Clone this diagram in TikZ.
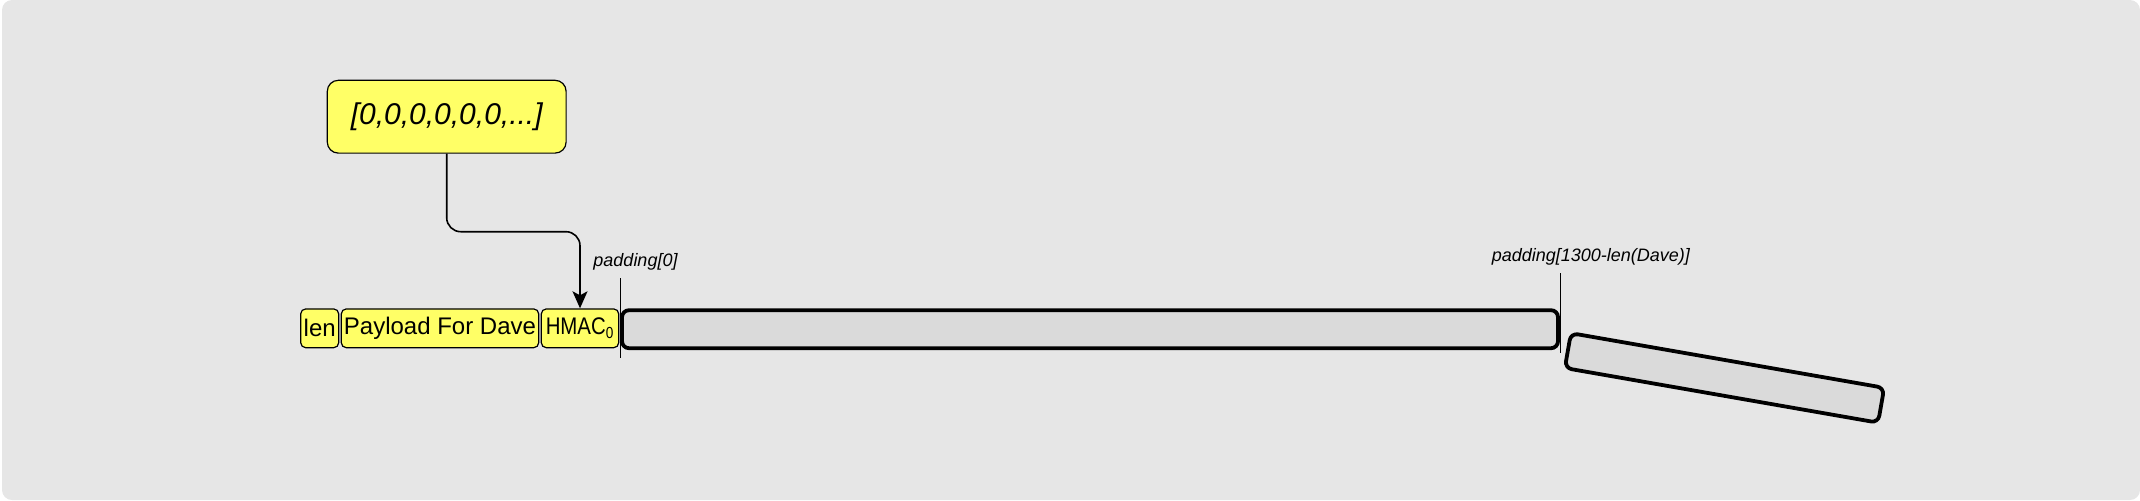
\documentclass[tikz,border=0pt]{standalone}
\usepackage{fontspec}
\usepackage{graphicx}
\setmainfont{Liberation Sans}
\usetikzlibrary{arrows.meta}
\definecolor{canvas}{HTML}{E6E6E6}
\definecolor{noteyellow}{HTML}{FFFF66}
\definecolor{padgray}{HTML}{DADADA}
\begin{document}
\begin{tikzpicture}[x=0.5pt,y=-0.5pt,>={Stealth[length=8.5pt,width=7.5pt,inset=2pt]},
  cell/.style={draw,fill=noteyellow,line width=0.6pt,rounded corners=2.5pt,minimum height=19.4pt,inner sep=0pt,font=\fontsize{12}{14}\selectfont},
  padbar/.style={draw,fill=padgray,line width=1.9pt,rounded corners=3.5pt,minimum height=19pt,inner sep=0pt},
  tag/.style={font=\fontsize{9}{11}\selectfont\itshape,inner sep=0pt}]
\useasboundingbox (0,0) rectangle (2140,500);
\fill[canvas,rounded corners=5pt] (2,0) rectangle (2140,500);
% source block and message cells
\node[cell,minimum width=119.4pt,minimum height=36.4pt,rounded corners=5.5pt,font=\fontsize{15}{18}\selectfont\itshape] (zeros) at (446.7,116.7) {[0,0,0,0,0,0,...]};
\node[cell,minimum width=19pt] (len) at (319.7,328.3) {len};
\node[cell,minimum width=98.7pt] (payload) at (440,328.3) {Payload For Dave};
\node[cell,minimum width=38.7pt] (hmac) at (580,328.3) {\scalebox{0.85}[1]{HMAC\textsubscript{0}}};
% padding
\node[padbar,minimum width=468pt] (pad) at (1090,329.2) {};
\node[padbar,minimum width=159pt,minimum height=17.7pt,rotate=-9.9] (tail) at (1724.5,377.9) {};
\coordinate (bend) at (513,231.7);
\draw[->,line width=0.8pt,rounded corners=7pt] (zeros.south) |- (bend) -| (hmac.north);
% markers
\coordinate (m0a) at (620,278); \coordinate (m0b) at (620,358);
\coordinate (m1a) at (1560,273); \coordinate (m1b) at (1560,353);
\foreach \A/\B in {m0a/m0b,m1a/m1b}{\draw[line width=0.5pt] (\A) -- (\B);}
\node[tag] (lab0) at (635.5,262) {padding[0]};
\node[tag] (lab1) at (1590.8,257) {padding[1300-len(Dave)]};
\end{tikzpicture}
\end{document}
